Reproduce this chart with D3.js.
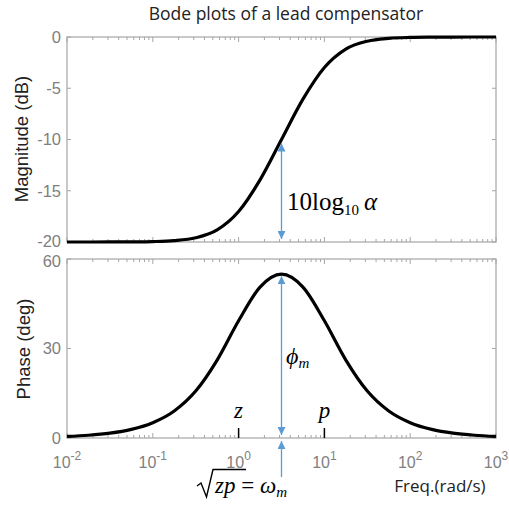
<!DOCTYPE html>
<html><head><meta charset="utf-8">
<script src="https://cdn.jsdelivr.net/npm/d3@7"></script>
<style>body{margin:0;background:#fff}</style>
</head><body>
<svg id="c" width="509" height="506"></svg>
<script>
// ---- data ----
const logFreq = [-2,-1.75,-1.5,-1.25,-1,-0.75,-0.5,-0.25,0,0.25,0.5,0.75,1,1.25,1.5,1.75,2,2.25,2.5,2.75,3];
const magnitudeDb = [-20.0,-19.999,-19.996,-19.986,-19.957,-19.866,-19.59,-18.82,-17.03,-13.94,-10.0,-6.06,-2.97,-1.18,-0.41,-0.134,-0.043,-0.014,-0.004,-0.001,0.0];
const phaseDeg = [0.52,0.92,1.63,2.9,5.14,9.06,15.74,26.13,39.29,50.57,54.9,50.57,39.29,26.13,15.74,9.06,5.14,2.9,1.63,0.92,0.52];
const magTicks = [0,-5,-10,-15,-20];
const phaseTicks = [0,30,60];
const xDecades = [-2,-1,0,1,2,3];
const zeroFreq = 1, poleFreq = 10, omegaM = 3.1623;
const title = "Bode plots of a lead compensator";

const svg = d3.select("#c");
const L = 67, R = 496;
const x = d3.scaleLog().domain([1e-2,1e3]).range([L,R]);
const yM = d3.scaleLinear().domain([-20,0]).range([242,37]);
const yP = d3.scaleLinear().domain([0,60]).range([438,259]);
const boxCol = "#a6a6a6", tickTxt = "#808080", blue = "#5b9bd5";

const defs = svg.append("defs");
defs.append("marker").attr("id","ah").attr("viewBox","0 0 10 10").attr("refX",10).attr("refY",5)
  .attr("markerWidth",8).attr("markerHeight",8).attr("markerUnits","userSpaceOnUse").attr("orient","auto-start-reverse")
  .append("path").attr("d","M0,0L10,5L0,10Z").attr("fill",blue);

const minor = [];
for (let d=-2; d<3; d++) for (let k=2;k<=9;k++) minor.push(k*Math.pow(10,d));
const major = xDecades.map(d=>Math.pow(10,d));

function panel(y, ticks, dyOff){
  const [b,t] = y.range();
  const g = svg.append("g");
  g.append("rect").attr("x",L).attr("y",t).attr("width",R-L).attr("height",b-t)
    .attr("fill","none").attr("stroke",boxCol).attr("stroke-width",1.2);
  minor.forEach(v=>{
    g.append("line").attr("x1",x(v)).attr("x2",x(v)).attr("y1",t).attr("y2",t+3).attr("stroke",boxCol);
    g.append("line").attr("x1",x(v)).attr("x2",x(v)).attr("y1",b).attr("y2",b-3).attr("stroke",boxCol);
  });
  major.forEach(v=>{
    g.append("line").attr("x1",x(v)).attr("x2",x(v)).attr("y1",t).attr("y2",t+5).attr("stroke",boxCol);
    g.append("line").attr("x1",x(v)).attr("x2",x(v)).attr("y1",b).attr("y2",b-5).attr("stroke",boxCol);
  });
  ticks.forEach(v=>{
    g.append("line").attr("x1",L).attr("x2",L+4).attr("y1",y(v)).attr("y2",y(v)).attr("stroke",boxCol);
    g.append("line").attr("x1",R).attr("x2",R-4).attr("y1",y(v)).attr("y2",y(v)).attr("stroke",boxCol);
    g.append("text").attr("x",L-6).attr("y",y(v)+(dyOff[v]||0)).attr("dy","0.35em").attr("text-anchor","end")
      .attr("font-family","Liberation Sans, Arial, sans-serif").attr("font-size",16.5).attr("fill",tickTxt).text(v);
  });
}
panel(yM, magTicks, {"-20":-1});
panel(yP, phaseTicks, {"60":2});

// curves
const lineM = d3.line().x((d,i)=>x(Math.pow(10,logFreq[i]))).y(d=>yM(d)).curve(d3.curveMonotoneX);
const lineP = d3.line().x((d,i)=>x(Math.pow(10,logFreq[i]))).y(d=>yP(d)).curve(d3.curveMonotoneX);
svg.append("path").attr("d",lineM(magnitudeDb)).attr("fill","none").attr("stroke","#000").attr("stroke-width",3.2);
svg.append("path").attr("d",lineP(phaseDeg)).attr("fill","none").attr("stroke","#000").attr("stroke-width",3.2);

// x tick labels
xDecades.forEach(d=>{
  const t = svg.append("text").attr("x",x(Math.pow(10,d))).attr("y",468).attr("text-anchor","middle")
    .attr("font-family","Liberation Sans, Arial, sans-serif").attr("font-size",16).attr("fill",tickTxt);
  t.append("tspan").text("10");
  t.append("tspan").attr("dy",-8).attr("font-size",12).text(d);
});

// axis labels
svg.append("text").attr("transform","translate(28,139) rotate(-90)").attr("text-anchor","middle")
  .attr("font-family","Liberation Sans, Arial, sans-serif").attr("font-size",18.5).attr("fill","#222").text("Magnitude (dB)");
svg.append("text").attr("transform","translate(30,349) rotate(-90)").attr("text-anchor","middle")
  .attr("font-family","Liberation Sans, Arial, sans-serif").attr("font-size",18.5).attr("fill","#222").text("Phase (deg)");
svg.append("text").attr("x",440).attr("y",492).attr("text-anchor","middle")
  .attr("font-family","Open Sans, sans-serif").attr("font-size",17).attr("fill","#222").text("Freq.(rad/s)");
svg.append("text").attr("x",286).attr("y",20).attr("text-anchor","middle")
  .attr("font-family","Open Sans, sans-serif").attr("font-size",17.5).attr("fill","#222").text(title);

// annotations
const xm = x(omegaM);
svg.append("line").attr("x1",xm).attr("x2",xm).attr("y1",yM(-10)+4).attr("y2",yM(-20)-3)
  .attr("stroke",blue).attr("stroke-width",1.3).attr("marker-start","url(#ah)").attr("marker-end","url(#ah)");
svg.append("line").attr("x1",xm).attr("x2",xm).attr("y1",yP(54.9)+2).attr("y2",yP(0)-3)
  .attr("stroke",blue).attr("stroke-width",1.3).attr("marker-start","url(#ah)").attr("marker-end","url(#ah)");
svg.append("line").attr("x1",xm).attr("x2",xm).attr("y1",477).attr("y2",yP(0)+3)
  .attr("stroke",blue).attr("stroke-width",1.3).attr("marker-end","url(#ah)");

[zeroFreq, poleFreq].forEach(v=>{
  svg.append("line").attr("x1",x(v)).attr("x2",x(v)).attr("y1",yP(0)-10).attr("y2",yP(0)).attr("stroke","#000").attr("stroke-width",1.5);
});
const serif = "Liberation Serif, Times New Roman, serif";
svg.append("text").attr("x",x(zeroFreq)).attr("y",418).attr("text-anchor","middle").attr("font-family",serif)
  .attr("font-style","italic").attr("font-size",23).text("z");
svg.append("text").attr("x",x(poleFreq)).attr("y",418).attr("text-anchor","middle").attr("font-family",serif)
  .attr("font-style","italic").attr("font-size",23).text("p");

const t1 = svg.append("text").attr("x",287).attr("y",210).attr("font-family",serif).attr("font-size",25);
t1.append("tspan").text("10log");
t1.append("tspan").attr("font-size",15).attr("dy",5).text("10");
t1.append("tspan").attr("dy",-5).attr("dx",5).attr("font-style","italic").text("α");

const t2 = svg.append("text").attr("x",286).attr("y",364).attr("font-family",serif).attr("font-size",24).attr("font-style","italic");
t2.append("tspan").text("ϕ");
t2.append("tspan").attr("font-size",15).attr("dy",4).text("m");

// sqrt(zp) = omega_m
svg.append("path").attr("d","M197,486 L201,483 L206.5,497 L213,469.5 L246,469.5")
  .attr("fill","none").attr("stroke","#000").attr("stroke-width",1.4).attr("stroke-linejoin","miter");
const t3 = svg.append("text").attr("x",215).attr("y",493).attr("font-family",serif).attr("font-size",23);
t3.append("tspan").attr("font-style","italic").text("zp");
t3.append("tspan").text(" = ");
t3.append("tspan").attr("font-style","italic").text("ω");
t3.append("tspan").attr("font-style","italic").attr("font-size",15).attr("dy",4).text("m");
</script>
</body></html>
